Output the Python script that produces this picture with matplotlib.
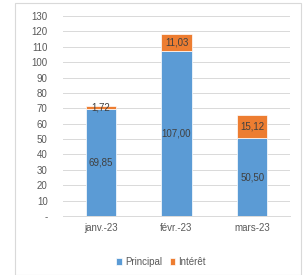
import matplotlib.pyplot as plt
from matplotlib.patches import Rectangle

plt.rcParams["font.family"] = ["Liberation Sans", "DejaVu Sans"]

# data
months = ["janv.-23", "févr.-23", "mars-23"]
principal = [69.85, 107.00, 50.50]
interet = [1.72, 11.03, 15.12]
yticks = list(range(0, 131, 10))

blue = "#5B9BD5"
orange = "#ED7D31"
txt = "#404040"

fig = plt.figure(figsize=(3.07, 2.75), dpi=100)
ax = fig.add_axes([63 / 307, 1 - 216 / 275, 227 / 307, 200 / 275])

x = range(len(months))
ax.bar(x, principal, width=0.4, color=blue, edgecolor="white", linewidth=0.5,
       label="Principal", zorder=3)
ax.bar(x, interet, width=0.4, bottom=principal, color=orange, edgecolor="white",
       linewidth=0.5, label="Intérêt", zorder=3)

for i in x:
    ax.text(i, principal[i] / 2, f"{principal[i]:.2f}".replace(".", ","),
            ha="center", va="center", fontsize=7, color=txt, zorder=4)
    ax.text(i, principal[i] + interet[i] / 2, f"{interet[i]:.2f}".replace(".", ","),
            ha="center", va="center", fontsize=7, color=txt, zorder=4)

ax.set_xlim(-0.5, 2.5)
ax.set_ylim(0, 130)
ax.set_yticks(yticks)
ax.set_yticklabels(["-"] + [str(v) for v in yticks[1:]])
ax.set_xticks(list(x))
ax.set_xticklabels(months)
ax.grid(axis="y", color="#D9D9D9", linewidth=0.7, zorder=0)
for s in ["top", "right", "left"]:
    ax.spines[s].set_visible(False)
ax.spines["bottom"].set_color("#D9D9D9")
ax.spines["bottom"].set_linewidth(0.7)
ax.tick_params(axis="both", length=0, labelsize=7, colors="#595959")
ax.tick_params(axis="y", pad=11)
ax.tick_params(axis="x", pad=5)

leg = fig.legend(loc="center", bbox_to_anchor=(161 / 307, 1 - 262 / 275), ncol=2,
                 frameon=False, fontsize=7, handlelength=0.6, handleheight=0.6,
                 handletextpad=0.3, columnspacing=0.8)
for t in leg.get_texts():
    t.set_color("#595959")

fig.patches.append(Rectangle((15 / 307, 0), 286 / 307, 1 - 3 / 275,
                             transform=fig.transFigure, fill=False,
                             edgecolor="#D9D9D9", linewidth=0.8))

fig.savefig("out.png", dpi=100)
